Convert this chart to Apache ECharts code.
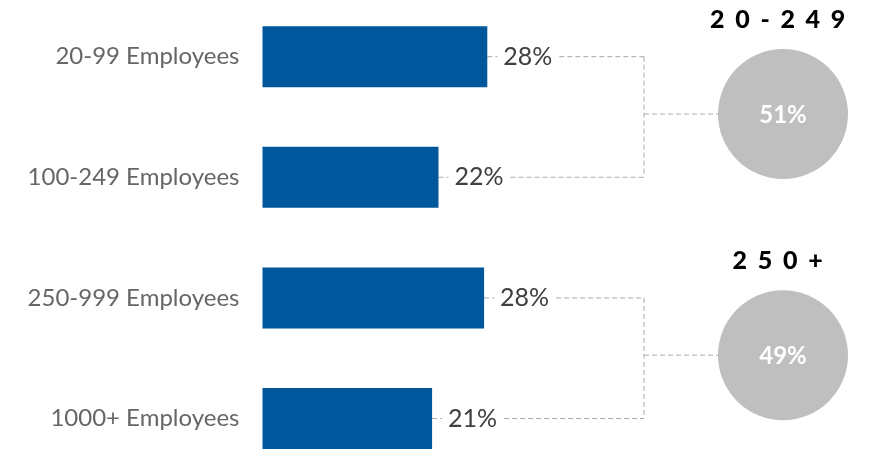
<!DOCTYPE html>
<html>
<head>
<meta charset="utf-8">
<script src="https://cdn.jsdelivr.net/npm/echarts@6/dist/echarts.min.js"></script>
<style>
html,body{margin:0;padding:0;background:#fff;}
#chart{width:869px;height:449px;}
</style>
</head>
<body>
<div id="chart"></div>
<script>
const categories = ['20-99 Employees', '100-249 Employees', '250-999 Employees', '1000+ Employees'];
const shares = [28.1, 22.0, 27.7, 21.2];
const shareLabels = ['28%', '22%', '28%', '21%'];
const groupTitles = ['20-249', '250+'];
const groupTotals = ['51%', '49%'];
const groupMembers = [[0, 1], [2, 3]];

const FONT = 'Lato, "Open Sans", sans-serif';
const BLUE = '#00579c';
const DASH = '#a9a9a9';
const BRACKET_X = 644;
const CIRCLE_X = 783;
const CIRCLE_R = 65;
const TITLE_SIZE = 25;
const TITLE_SPACING = 10.7;

const measureCtx = document.createElement('canvas').getContext('2d');
measureCtx.font = '900 ' + TITLE_SIZE + 'px ' + FONT;

const chart = echarts.init(document.getElementById('chart'), null, {renderer: 'canvas'});

function renderGroup(params, api) {
  const g = api.value(0);
  const members = groupMembers[g];
  const children = [];
  const ys = [];
  members.forEach(function (i) {
    const p = api.coord([shares[i], i]);
    ys.push(p[1]);
    children.push({
      type: 'line',
      shape: {x1: p[0], y1: p[1], x2: BRACKET_X, y2: p[1]},
      style: {stroke: DASH, lineWidth: 1, lineDash: [5, 3]}
    });
  });
  const y0 = Math.min.apply(null, ys), y1 = Math.max.apply(null, ys);
  const mid = (y0 + y1) / 2 - 3;
  children.push({
    type: 'line',
    shape: {x1: BRACKET_X, y1: y0, x2: BRACKET_X, y2: y1},
    style: {stroke: DASH, lineWidth: 1, lineDash: [5, 3]}
  });
  children.push({
    type: 'line',
    shape: {x1: BRACKET_X, y1: mid, x2: CIRCLE_X - CIRCLE_R, y2: mid},
    style: {stroke: DASH, lineWidth: 1, lineDash: [5, 3]}
  });
  children.push({
    type: 'circle',
    shape: {cx: CIRCLE_X, cy: mid, r: CIRCLE_R},
    style: {fill: '#bfbfbf'}
  });
  children.push({
    type: 'text',
    style: {
      x: CIRCLE_X, y: mid + 1, text: groupTotals[g],
      fill: '#ffffff', font: 'bold 24px ' + FONT,
      align: 'center', verticalAlign: 'middle'
    }
  });
  const chars = groupTitles[g].split('');
  const widths = chars.map(function (c) { return measureCtx.measureText(c).width; });
  let total = 0;
  widths.forEach(function (w) { total += w + TITLE_SPACING; });
  let x = CIRCLE_X - total / 2;
  const ty = mid - CIRCLE_R - 29;
  chars.forEach(function (c, k) {
    children.push({
      type: 'text',
      style: {
        x: x, y: ty, text: c, fill: '#000000',
        font: '900 ' + TITLE_SIZE + 'px ' + FONT,
        align: 'left', verticalAlign: 'middle'
      }
    });
    x += widths[k] + TITLE_SPACING;
  });
  return {type: 'group', children: children};
}

chart.setOption({
  animation: false,
  grid: {left: 262.5, width: 600, top: -3.6, height: 482.4, outerBoundsMode: 'none', containLabel: false},
  xAxis: {type: 'value', min: 0, max: 75, show: false},
  yAxis: {
    type: 'category', data: categories, inverse: true,
    axisLine: {show: false}, axisTick: {show: false}, splitLine: {show: false},
    axisLabel: {color: '#666666', fontFamily: FONT, fontSize: 24, margin: 23}
  },
  series: [
    {
      type: 'custom', z: 1, coordinateSystem: 'cartesian2d',
      renderItem: renderGroup, clip: false,
      data: [[0, 0], [1, 2]], silent: true
    },
    {
      type: 'bar', z: 2, data: shares, barWidth: 61,
      itemStyle: {color: BLUE},
      label: {
        show: true, position: 'right', distance: 10,
        formatter: function (p) { return shareLabels[p.dataIndex]; },
        color: '#404040', fontFamily: FONT, fontSize: 25,
        backgroundColor: '#ffffff', padding: [2, 6]
      }
    }
  ]
});
</script>
</body>
</html>
